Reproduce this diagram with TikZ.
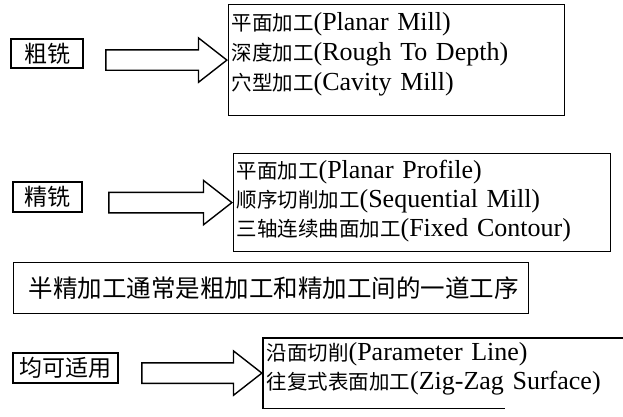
\documentclass[tikz,border=0pt]{standalone}
\usepackage{fontspec}
\setmainfont{Liberation Serif}
\newfontfamily\cjk{Noto Sans CJK SC}
\usetikzlibrary{shapes.arrows}

% Chinese part of a line inside the operation boxes
\newcommand{\zhtext}[1]{{\cjk\fontsize{20.5}{29}\selectfont #1}}

\begin{document}
\begin{tikzpicture}[
  x=1pt, y=-1pt,
  every node/.style={align=center},
  %% --- styles ---------------------------------------------------
  frame/.style={line width=1.2pt},
  tagbox/.style={
    draw, frame, inner xsep=4pt, inner ysep=2pt,
    font=\cjk\fontsize{23}{26}\selectfont
  },
  opbox/.style={
    draw, frame, anchor=north west, align=left, inner sep=3pt,
    font=\fontsize{26}{29}\selectfont
  },
  notebox/.style={
    draw, frame, anchor=north west, align=left, inner xsep=15pt,
    font=\cjk\fontsize{24.5}{28}\selectfont
  },
  bigarrow/.style={
    draw, line width=1.4pt, single arrow, single arrow tip angle=76,
    single arrow head extend=12pt, inner xsep=0pt, inner ysep=9.5pt,
    minimum width=0pt, anchor=tip
  }
]
  \useasboundingbox (0,0) rectangle (623,417);

  %% --- 1. rough milling -----------------------------------------
  \node[tagbox, minimum width=72pt, minimum height=29pt] (rough) at (47,53.5) {粗铣};
  \node[opbox, text width=330pt, text height=23pt, text depth=82pt,
        font=\fontsize{26}{30}\selectfont] (roughops) at (228,4)
    {\zhtext{平面加工}(Planar Mill)\\
     \zhtext{深度加工}(Rough To Depth)\\
     \zhtext{穴型加工}(Cavity Mill)};
  \node[bigarrow, minimum height=121pt] (roughto) at (roughops.west) {};

  %% --- 2. finish milling ----------------------------------------
  \node[tagbox, minimum width=69pt, minimum height=30pt] (finish) at (47.5,197) {精铣};
  \node[opbox, text width=371pt, text height=22pt, text depth=70pt] (finishops) at (233,153)
    {\zhtext{平面加工}(Planar Profile)\\
     \zhtext{顺序切削加工}(Sequential Mill)\\
     \zhtext{三轴连续曲面加工}(Fixed Contour)};
  \node[bigarrow, minimum height=123pt] (finishto) at (finishops.west) {};

  %% --- 3. semi-finish note --------------------------------------
  \node[notebox, text width=485pt, minimum height=51pt] (semi) at (13,262)
    {半精加工通常是粗加工和精加工间的一道工序};

  %% --- 4. both ---------------------------------------------------
  \node[tagbox, minimum width=105pt, minimum height=30pt] (both) at (65.5,368) {均可适用};
  \node[opbox, draw=none, text width=400pt, text height=19pt, text depth=44pt] (bothops) at (263,338)
    {\zhtext{沿面切削}(Parameter Line)\\
     \zhtext{往复式表面加工}(Zig-Zag Surface)};
  \draw[frame] (bothops.north east) -- (bothops.north west) -- (bothops.south west) -- ++(242,0);
  \node[bigarrow, minimum height=120pt] (bothto) at (bothops.west) {};

\end{tikzpicture}
\end{document}
